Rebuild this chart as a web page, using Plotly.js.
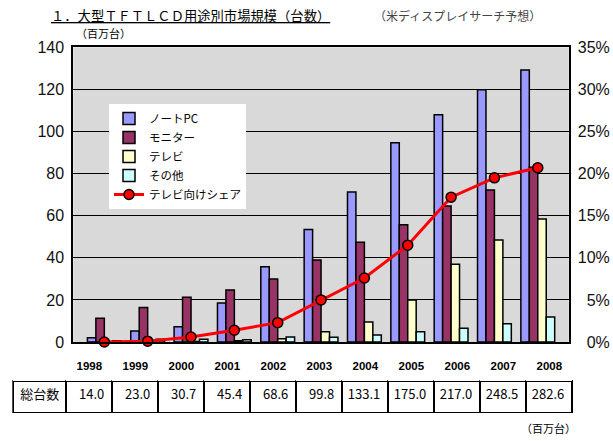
<!DOCTYPE html>
<html>
<head>
<meta charset="utf-8">
<script src="https://cdn.plot.ly/plotly-3.0.1.min.js"></script>
<style>
  html, body { margin: 0; padding: 0; background: #fff; }
  #chart { width: 613px; height: 441px; }
</style>
</head>
<body>
<div id="chart"></div>
<script>
// values (millions of units)
const years = ['1998', '1999', '2000', '2001', '2002', '2003', '2004', '2005', '2006', '2007', '2008'];
const notebook = [2.0, 5.2, 7.2, 18.5, 35.8, 53.5, 71.3, 94.7, 107.9, 119.8, 129.2];
const monitor = [11.3, 16.4, 21.2, 24.7, 29.9, 39.0, 47.4, 55.7, 64.6, 72.2, 83.0];
const tv = [0.1, 0.1, 0.2, 0.6, 1.6, 4.9, 9.5, 19.9, 36.9, 48.4, 58.4];
const other = [0.6, 1.3, 1.3, 1.1, 2.4, 2.2, 3.3, 4.9, 6.5, 8.7, 11.9];
// TV share of total (%)
const tvShare = [0.0, 0.1, 0.6, 1.4, 2.3, 5.0, 7.6, 11.5, 17.2, 19.5, 20.7];
// totals row of the table
const totals = ['14.0', '23.0', '30.7', '45.4', '68.6', '99.8', '133.1', '175.0', '217.0', '248.5', '282.6'];
const totalLabel = '総台数';
const leftTicks = [0, 20, 40, 60, 80, 100, 120, 140];
const rightTicks = [0, 5, 10, 15, 20, 25, 30, 35];

const W = 613, H = 441;
const px = (x) => x / W;
const py = (y) => 1 - y / H;

const jp = '"Noto Sans CJK JP", sans-serif';
const latin = '"Liberation Sans", Arial, sans-serif';

function barTrace(name, values, color) {
  return {
    type: 'bar',
    name: name,
    x: years,
    y: values,
    marker: { color: color, line: { color: '#000', width: 1.5 } },
    hoverinfo: 'skip',
  };
}

const data = [
  barTrace('ノートPC', notebook, '#9999ff'),
  barTrace('モニター', monitor, '#993366'),
  barTrace('テレビ', tv, '#ffffcc'),
  barTrace('その他', other, '#ccffff'),
  {
    type: 'scatter',
    mode: 'lines+markers',
    name: 'テレビ向けシェア',
    x: years,
    y: tvShare,
    yaxis: 'y2',
    line: { color: '#ff0000', width: 3 },
    marker: { color: '#ff0000', size: 10, line: { color: '#000', width: 1.5 } },
    cliponaxis: false,
    hoverinfo: 'skip',
  },
  {
    // totals table, years in the header row
    type: 'table',
    domain: { x: [px(13.3), px(573.3)], y: [py(413), py(353)] },
    columnwidth: [53.4].concat(years.map(() => 46.3)),
    header: {
      values: [''].concat(years),
      height: 28,
      align: 'center',
      fill: { color: '#fff' },
      line: { width: 0, color: '#fff' },
      font: { family: latin, size: 11.5, color: '#000', weight: 'bold' },
    },
    cells: {
      values: [[totalLabel]].concat(totals.map((t) => [t])),
      height: 32,
      align: ['center'].concat(totals.map(() => 'right')),
      fill: { color: '#fff' },
      line: { color: '#000', width: 2 },
      font: { family: jp, size: 13, color: '#000' },
    },
  },
];

const padTick = (s, n) => '\u2007'.repeat(Math.max(0, n - s.length)) + s;

const layout = {
  width: W,
  height: H,
  margin: { l: 0, r: 0, t: 0, b: 0 },
  paper_bgcolor: '#fff',
  plot_bgcolor: '#d9d9d9',
  barmode: 'group',
  bargap: 0.22,
  bargroupgap: 0,
  showlegend: true,
  legend: {
    x: px(109),
    y: py(104),
    xanchor: 'left',
    yanchor: 'top',
    bgcolor: '#fff',
    borderwidth: 0,
    font: { family: jp, size: 11.5, color: '#000' },
    itemwidth: 30,
  },
  xaxis: {
    domain: [px(73.3), px(568.8)],
    type: 'category',
    showticklabels: false,
    showline: true,
    mirror: true,
    linecolor: '#000',
    linewidth: 2,
    showgrid: false,
    zeroline: false,
    fixedrange: true,
  },
  yaxis: {
    domain: [py(342), py(47.3)],
    range: [0, 140],
    tickmode: 'array',
    tickvals: leftTicks,
    ticktext: leftTicks.map(String),
    showline: true,
    mirror: true,
    linecolor: '#000',
    linewidth: 2,
    showgrid: true,
    gridcolor: '#000',
    gridwidth: 1,
    zeroline: false,
    ticks: '',
    ticklabelstandoff: 4,
    tickfont: { family: latin, size: 16, color: '#111' },
    fixedrange: true,
  },
  yaxis2: {
    overlaying: 'y',
    side: 'right',
    range: [0, 35],
    tickmode: 'array',
    tickvals: rightTicks,
    ticktext: rightTicks.map((v) => padTick(v + '%', 3)),
    showgrid: false,
    zeroline: false,
    showline: false,
    ticks: '',
    ticklabelstandoff: 8,
    tickfont: { family: latin, size: 16, color: '#111' },
    fixedrange: true,
  },
  annotations: [
    {
      text: '<u>１．大型ＴＦＴＬＣＤ用途別市場規模（台数）</u>',
      xref: 'paper', yref: 'paper',
      x: px(49), y: py(15), xanchor: 'left', yanchor: 'middle',
      showarrow: false,
      font: { family: jp, size: 13.3, color: '#000' },
    },
    {
      text: '（米ディスプレイサーチ予想）',
      xref: 'paper', yref: 'paper',
      x: px(372), y: py(16), xanchor: 'left', yanchor: 'middle',
      showarrow: false,
      font: { family: jp, size: 12, color: '#444' },
    },
    {
      text: '（百万台）',
      xref: 'paper', yref: 'paper',
      x: px(74), y: py(33), xanchor: 'left', yanchor: 'middle',
      showarrow: false,
      font: { family: jp, size: 11, color: '#000' },
    },
    {
      text: '（百万台）',
      xref: 'paper', yref: 'paper',
      x: px(578), y: py(428), xanchor: 'right', yanchor: 'middle',
      showarrow: false,
      font: { family: jp, size: 11, color: '#000' },
    },
  ],
};

Plotly.newPlot('chart', data, layout, { displayModeBar: false, staticPlot: true });
</script>
</body>
</html>
